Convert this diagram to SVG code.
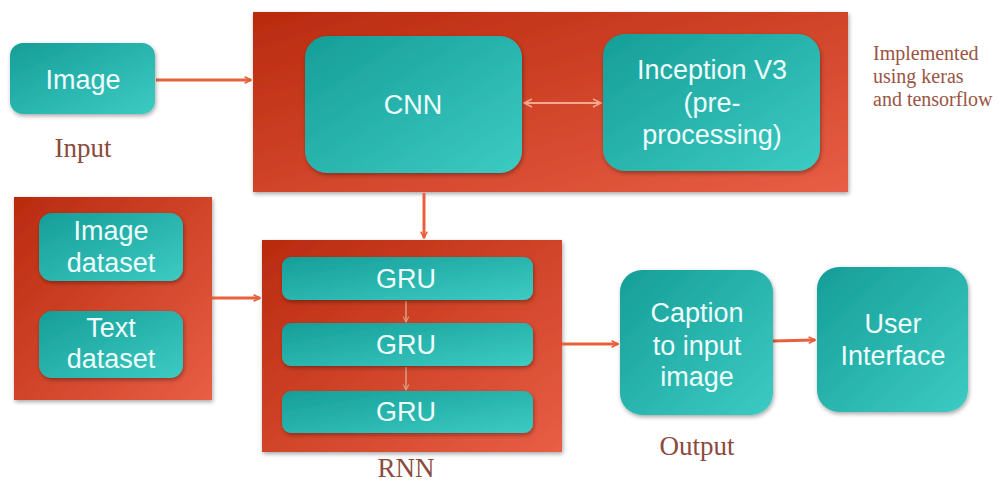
<svg xmlns="http://www.w3.org/2000/svg" width="1006" height="481" viewBox="0 0 1006 481">
  <defs>
    <linearGradient id="teal" x1="0" y1="0" x2="1" y2="1">
      <stop offset="0" stop-color="#169e98"/>
      <stop offset="1" stop-color="#3ccbc3"/>
    </linearGradient>
    <linearGradient id="red" x1="0" y1="0" x2="1" y2="1">
      <stop offset="0" stop-color="#b92a0e"/>
      <stop offset="1" stop-color="#e85e45"/>
    </linearGradient>
    <filter id="sh" x="-10%" y="-10%" width="120%" height="125%">
      <feDropShadow dx="1" dy="2" stdDeviation="2" flood-color="#000" flood-opacity="0.35"/>
    </filter>
    <marker id="ah" viewBox="0 0 10 10" refX="9" refY="5" markerWidth="8" markerHeight="8" orient="auto-start-reverse" markerUnits="userSpaceOnUse">
      <path d="M1,1 L9,5 L1,9" fill="none" stroke="#e8603c" stroke-width="2"/>
    </marker>
    <marker id="ahl" viewBox="0 0 10 10" refX="9" refY="5" markerWidth="10" markerHeight="10" orient="auto-start-reverse" markerUnits="userSpaceOnUse">
      <path d="M1,1 L9,5 L1,9" fill="none" stroke="#f6a98c" stroke-width="1.5"/>
    </marker>
    <marker id="ahs" viewBox="0 0 10 10" refX="9" refY="5" markerWidth="7" markerHeight="7" orient="auto" markerUnits="userSpaceOnUse">
      <path d="M1,1 L9,5 L1,9" fill="none" stroke="#d6a080" stroke-width="1.5"/>
    </marker>
    <style>
      .cont { fill: url(#red); filter: url(#sh); }
      .box { fill: url(#teal); filter: url(#sh); }
      .t { font-family: "Liberation Sans", Arial, sans-serif; font-size: 27px; fill: #eefcfb; text-anchor: middle; }
      .lbl { font-family: "Liberation Serif", "Times New Roman", serif; font-size: 27px; fill: #8b4a3c; text-anchor: middle; }
      .note { font-family: "Liberation Serif", "Times New Roman", serif; font-size: 20px; fill: #9a5444; }
      .conn { stroke: #e8603c; stroke-width: 3; fill: none; }
    </style>
  </defs>
  <rect width="1006" height="481" fill="#ffffff"/>

  <g id="cnn-group">
    <rect class="cont" x="253" y="12" width="595" height="180"/>
  </g>
  <g id="dataset-group">
    <rect class="cont" x="14" y="197" width="198" height="203"/>
  </g>
  <g id="rnn-group">
    <rect class="cont" x="262" y="240" width="300" height="212"/>
  </g>

  <g id="connectors">
    <line class="conn" x1="156" y1="80" x2="251" y2="80" marker-end="url(#ah)"/>
    <line x1="524" y1="103" x2="601" y2="103" stroke="#f6a98c" stroke-width="2" marker-start="url(#ahl)" marker-end="url(#ahl)"/>
    <line class="conn" x1="424" y1="193" x2="424" y2="238" marker-end="url(#ah)"/>
    <line class="conn" x1="212" y1="298" x2="260" y2="298" marker-end="url(#ah)"/>
    <line class="conn" x1="562" y1="344" x2="618" y2="344" marker-end="url(#ah)"/>
    <line class="conn" x1="773" y1="341" x2="815" y2="340" marker-end="url(#ah)"/>
    <line x1="406" y1="301" x2="406" y2="322" stroke="#d6a080" stroke-width="1.5" marker-end="url(#ahs)"/>
    <line x1="406" y1="367" x2="406" y2="390" stroke="#d6a080" stroke-width="1.5" marker-end="url(#ahs)"/>
  </g>

  <g id="image">
    <rect class="box" x="10" y="43" width="145" height="71" rx="13"/>
    <text class="t" x="83" y="89">Image</text>
  </g>
  <g id="cnn">
    <rect class="box" x="305" y="36" width="217" height="137" rx="22"/>
    <text class="t" x="413" y="114">CNN</text>
  </g>
  <g id="inception">
    <rect class="box" x="603" y="34" width="217" height="137" rx="22"/>
    <text class="t" x="712" y="79">Inception V3</text>
    <text class="t" x="712" y="112">(pre-</text>
    <text class="t" x="712" y="144">processing)</text>
  </g>
  <g id="image-dataset">
    <rect class="box" x="39" y="213" width="144" height="68" rx="13"/>
    <text class="t" x="111" y="240">Image</text>
    <text class="t" x="111" y="272">dataset</text>
  </g>
  <g id="text-dataset">
    <rect class="box" x="39" y="311" width="144" height="67" rx="13"/>
    <text class="t" x="111" y="337">Text</text>
    <text class="t" x="111" y="368">dataset</text>
  </g>
  <g id="gru1">
    <rect class="box" x="282" y="257" width="251" height="43" rx="9"/>
    <text class="t" x="406" y="288">GRU</text>
  </g>
  <g id="gru2">
    <rect class="box" x="282" y="323" width="251" height="43" rx="9"/>
    <text class="t" x="406" y="354">GRU</text>
  </g>
  <g id="gru3">
    <rect class="box" x="282" y="391" width="251" height="42" rx="9"/>
    <text class="t" x="406" y="421">GRU</text>
  </g>
  <g id="caption">
    <rect class="box" x="620" y="270" width="153" height="145" rx="22"/>
    <text class="t" x="697" y="322">Caption</text>
    <text class="t" x="697" y="355">to input</text>
    <text class="t" x="697" y="386">image</text>
  </g>
  <g id="ui">
    <rect class="box" x="817" y="267" width="151" height="145" rx="22"/>
    <text class="t" x="893" y="333">User</text>
    <text class="t" x="893" y="365">Interface</text>
  </g>

  <g id="labels">
    <text class="lbl" x="83" y="157">Input</text>
    <text class="lbl" x="406" y="477">RNN</text>
    <text class="lbl" x="697" y="455">Output</text>
    <text class="note" x="873" y="60">Implemented</text>
    <text class="note" x="873" y="83">using keras</text>
    <text class="note" x="873" y="106">and tensorflow</text>
  </g>
</svg>
